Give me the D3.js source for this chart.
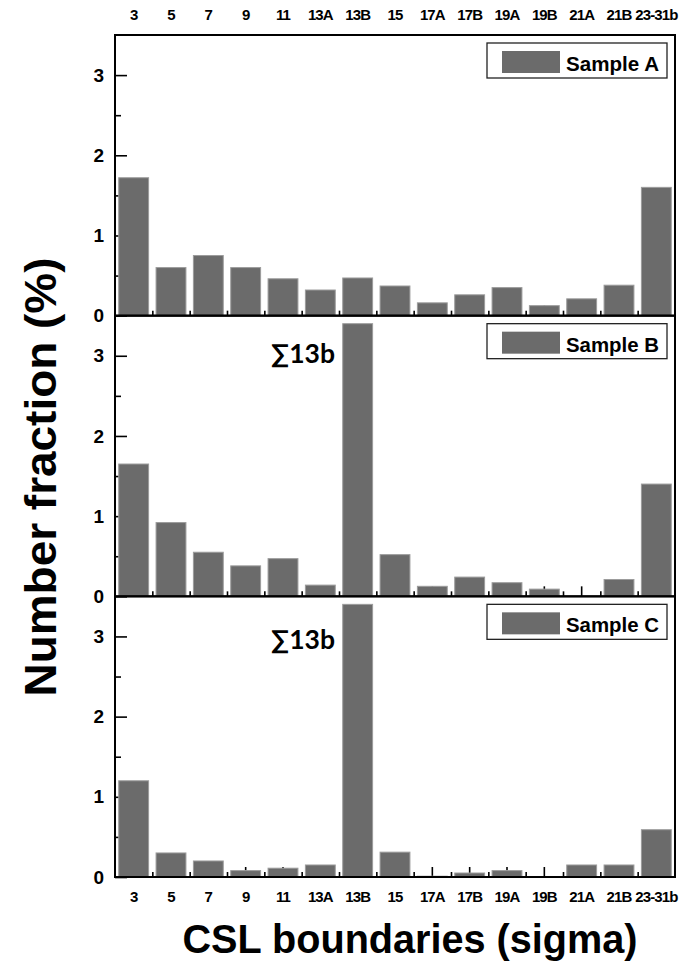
<!DOCTYPE html>
<html>
<head>
<meta charset="utf-8">
<script src="https://cdn.jsdelivr.net/npm/d3@7"></script>
<style>
body { margin: 0; background: #fff; }
text { font-family: "Liberation Sans", Arial, sans-serif; font-weight: bold; fill: #000; }
</style>
</head>
<body>
<script>
//DATA
var categories = ["3", "5", "7", "9", "11", "13A", "13B", "15", "17A", "17B", "19A", "19B", "21A", "21B", "23-31b"];
var sampleA = [1.72, 0.60, 0.75, 0.60, 0.46, 0.32, 0.47, 0.37, 0.16, 0.26, 0.35, 0.125, 0.21, 0.38, 1.60];
var sampleB = [1.65, 0.92, 0.55, 0.38, 0.47, 0.14, 3.40, 0.52, 0.125, 0.24, 0.17, 0.09, 0.0, 0.21, 1.40];
var sampleC = [1.20, 0.30, 0.20, 0.08, 0.11, 0.15, 3.40, 0.31, 0.01, 0.05, 0.08, 0.0, 0.15, 0.15, 0.59];
var seriesNames = ["Sample A", "Sample B", "Sample C"];
var annotations = ["", "\u221113b", "\u221113b"];
var yTicks = [0, 1, 2, 3];
var yMinorTicks = [0.5, 1.5, 2.5];

//GENERAL VARIABLES
var width = 682,
    height = 967,
    plotLeft = 115,
    plotRight = 675,
    plotTop = 35,
    panelH = 280.67,
    barColor = "#6b6b6b",
    barEdge = "#9c9c9c";

var series = [sampleA, sampleB, sampleC];
var annotY = [0, 47, 53]; // baseline of the sum label inside each panel

var svg = d3.select("body").append("svg")
    .attr("width", width)
    .attr("height", height);

var x = d3.scaleBand()
    .domain(categories)
    .range([plotLeft, plotRight])
    .paddingInner(0.2)
    .paddingOuter(0.1);

// boundaries between the categories
var xi = d3.scaleLinear()
    .domain([0, categories.length])
    .range([plotLeft, plotRight]);

var y = d3.scaleLinear()
    .domain([0, 3.5])
    .range([panelH, 0]);

series.forEach(function(values, i) {
    var g = svg.append("g")
        .attr("transform", "translate(0," + (plotTop + i * panelH) + ")");

    //TICKS (drawn under the bars)
    var tickCenter = g.append("g")
        .attr("transform", "translate(0," + panelH + ")")
        .call(d3.axisBottom(x).tickSize(-10).tickFormat(""));
    var tickEdge = g.append("g")
        .attr("transform", "translate(0," + panelH + ")")
        .call(d3.axisBottom(xi).tickValues(d3.range(1, categories.length)).tickSize(-5).tickFormat(""));
    var yMinor = g.append("g")
        .attr("transform", "translate(" + plotLeft + ",0)")
        .call(d3.axisLeft(y).tickValues(yMinorTicks).tickSize(-6).tickFormat(""));
    var yMajor = g.append("g")
        .attr("transform", "translate(" + plotLeft + ",0)")
        .call(d3.axisLeft(y).tickValues(yTicks).tickSize(-12).tickPadding(11).tickFormat(d3.format("d")));
    yMajor.selectAll("text").style("font-size", "19px");

    [tickCenter, tickEdge, yMinor, yMajor].forEach(function(a) {
        a.select(".domain").remove();
        a.selectAll("line").attr("stroke", "#000").attr("stroke-width", 1.6);
    });

    //BARS
    g.selectAll(".bar")
        .data(values)
        .enter().append("rect")
        .attr("class", "bar")
        .attr("x", function(d, j) { return x(categories[j]); })
        .attr("width", x.bandwidth())
        .attr("y", function(d) { return y(d); })
        .attr("height", function(d) { return y(0) - y(d); })
        .attr("fill", barColor)
        .attr("stroke", barEdge)
        .attr("stroke-width", 1);

    //FRAME
    g.append("rect")
        .attr("x", plotLeft)
        .attr("y", 0)
        .attr("width", plotRight - plotLeft)
        .attr("height", panelH)
        .attr("fill", "none")
        .attr("stroke", "#000")
        .attr("stroke-width", 2);

    //LEGEND
    var leg = g.append("g").attr("transform", "translate(487,8)");
    leg.append("rect")
        .attr("width", 180).attr("height", 35)
        .attr("fill", "#fff")
        .attr("stroke", "#222")
        .attr("stroke-width", 1.3);
    leg.append("rect")
        .attr("x", 15).attr("y", 8)
        .attr("width", 58).attr("height", 22)
        .attr("fill", barColor);
    leg.append("text")
        .attr("x", 79).attr("y", 28)
        .attr("textLength", 93)
        .attr("lengthAdjust", "spacingAndGlyphs")
        .style("font-size", "21px")
        .text(seriesNames[i]);

    if (annotations[i]) {
        g.append("text")
            .attr("x", 271).attr("y", annotY[i])
            .attr("textLength", 64)
            .attr("lengthAdjust", "spacingAndGlyphs")
            .style("font-family", "Lato, 'Open Sans', sans-serif")
            .style("font-size", "26px")
            .text(annotations[i]);
    }

    //CATEGORY LABELS
    if (i === 0) {
        var top = g.append("g").call(d3.axisTop(x).tickSize(0).tickPadding(15));
        top.select(".domain").remove();
        top.selectAll("text").style("font-size", "15px").style("letter-spacing", "-0.9px");
    }
    if (i === series.length - 1) {
        var bot = g.append("g")
            .attr("transform", "translate(0," + panelH + ")")
            .call(d3.axisBottom(x).tickSize(0).tickPadding(14));
        bot.select(".domain").remove();
        bot.selectAll("text").style("font-size", "15px").style("letter-spacing", "-0.9px");
    }
});

//AXIS TITLES
svg.append("text")
    .attr("x", 410)
    .attr("y", 953)
    .attr("text-anchor", "middle")
    .attr("textLength", 455)
    .attr("lengthAdjust", "spacingAndGlyphs")
    .style("font-size", "41px")
    .text("CSL boundaries (sigma)");

svg.append("text")
    .attr("transform", "translate(56,477) rotate(-90)")
    .attr("text-anchor", "middle")
    .attr("textLength", 439)
    .attr("lengthAdjust", "spacingAndGlyphs")
    .style("font-size", "45px")
    .text("Number fraction (%)");
</script>
</body>
</html>
